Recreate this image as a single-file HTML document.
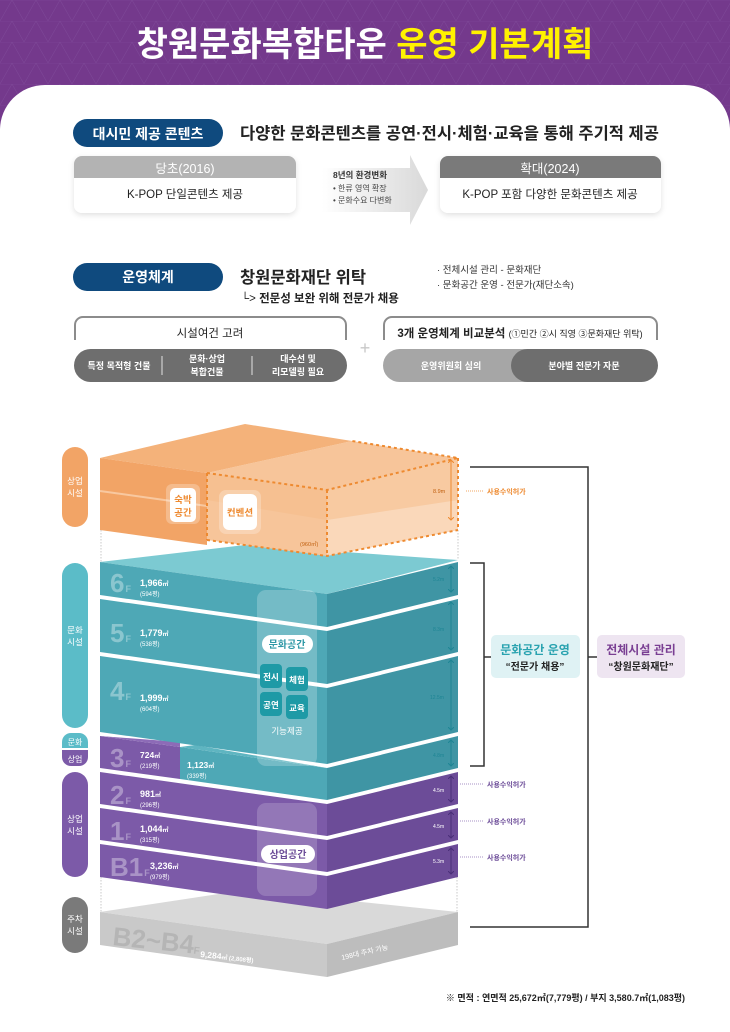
<!DOCTYPE html>
<html><head><meta charset="utf-8">
<style>
html,body{margin:0;padding:0;background:#fff;}
svg{display:block;}
text{font-family:"Liberation Sans","Noto Sans CJK KR",sans-serif;}
</style></head><body>
<svg width="730" height="1032" viewBox="0 0 730 1032" xmlns="http://www.w3.org/2000/svg">
<defs>
<pattern id="tri" width="24" height="21" patternUnits="userSpaceOnUse">
<path d="M0 21 L12 0 L24 21 M0 0 H24" stroke="#7f4a9a" stroke-width="0.5" fill="none"/>
</pattern>
<linearGradient id="arr" x1="0" x2="1"><stop offset="0" stop-color="#fff"/><stop offset="1" stop-color="#d9d9d9"/></linearGradient>
<filter id="sh" x="-10%" y="-20%" width="120%" height="150%"><feDropShadow dx="0" dy="2" stdDeviation="3" flood-color="#000" flood-opacity="0.12"/></filter>
<marker id="at" markerWidth="6" markerHeight="6" refX="3" refY="3" orient="auto-start-reverse" markerUnits="userSpaceOnUse"><path d="M0 0 L3 3 L0 6" fill="none" stroke="context-stroke" stroke-width="1"/></marker>
</defs>
<rect width="730" height="130" fill="#74398c"/>
<rect width="730" height="130" fill="url(#tri)"/>
<rect x="0" y="85" width="730" height="960" rx="45" fill="#fff"/>
<text x="365" y="56" text-anchor="middle" font-size="34" font-weight="bold" fill="#fff">창원문화복합타운 <tspan fill="#fff200">운영 기본계획</tspan></text>

<!-- section 1 -->
<rect x="73" y="119" width="150" height="28" rx="14" fill="#0f4a7e"/>
<text x="148" y="139" text-anchor="middle" font-size="14" font-weight="bold" fill="#fff">대시민 제공 콘텐츠</text>
<text x="240" y="139" font-size="16.5" font-weight="bold" fill="#222">다양한 문화콘텐츠를 공연·전시·체험·교육을 통해 주기적 제공</text>
<g filter="url(#sh)"><rect x="74" y="156" width="222" height="57" rx="8" fill="#fff"/></g>
<path d="M74 178 V164 a8 8 0 0 1 8 -8 H288 a8 8 0 0 1 8 8 V178 Z" fill="#b3b3b3"/>
<text x="185" y="173" text-anchor="middle" font-size="12.5" fill="#fff">당초(2016)</text>
<text x="185" y="198" text-anchor="middle" font-size="11.5" fill="#222">K-POP 단일콘텐츠 제공</text>
<path d="M322 168 H410 V155 L428 190 L410 225 V212 H322 Z" fill="url(#arr)"/>
<text x="333" y="178" font-size="8.5" font-weight="bold" fill="#333">8년의 환경변화</text>
<text x="333" y="191" font-size="8" fill="#444">• 한류 영역 확장</text>
<text x="333" y="203" font-size="8" fill="#444">• 문화수요 다변화</text>
<g filter="url(#sh)"><rect x="440" y="156" width="221" height="57" rx="8" fill="#fff"/></g>
<path d="M440 178 V164 a8 8 0 0 1 8 -8 H653 a8 8 0 0 1 8 8 V178 Z" fill="#7a7a7a"/>
<text x="550" y="173" text-anchor="middle" font-size="12.5" fill="#fff">확대(2024)</text>
<text x="550" y="198" text-anchor="middle" font-size="11.5" fill="#222">K-POP 포함 다양한 문화콘텐츠 제공</text>

<!-- section 2 -->
<rect x="73" y="263" width="150" height="28" rx="14" fill="#0f4a7e"/>
<text x="148" y="282" text-anchor="middle" font-size="14" font-weight="bold" fill="#fff">운영체계</text>
<text x="240" y="283" font-size="16.5" font-weight="bold" fill="#222">창원문화재단 위탁</text>
<text x="241" y="302" font-size="11.5" fill="#222">└&gt; <tspan font-weight="bold">전문성 보완 위해 전문가 채용</tspan></text>
<text x="437" y="273" font-size="9.5" fill="#333">· 전체시설 관리 - 문화재단</text>
<text x="437" y="288" font-size="9.5" fill="#333">· 문화공간 운영 - 전문가(재단소속)</text>

<path d="M75 340 V325 a8 8 0 0 1 8 -8 H338 a8 8 0 0 1 8 8 V340" fill="none" stroke="#8c8c8c" stroke-width="2"/>
<text x="210" y="337" text-anchor="middle" font-size="11.5" fill="#222">시설여건 고려</text>
<rect x="74" y="349" width="273" height="33" rx="16.5" fill="#6e6e6e"/>
<line x1="162" y1="356" x2="162" y2="375" stroke="#fff" stroke-width="0.8"/>
<line x1="252" y1="356" x2="252" y2="375" stroke="#fff" stroke-width="0.8"/>
<text x="119" y="369" text-anchor="middle" font-size="9" font-weight="bold" fill="#fff">특정 목적형 건물</text>
<text x="207" y="362" text-anchor="middle" font-size="9" font-weight="bold" fill="#fff">문화·상업</text>
<text x="207" y="375" text-anchor="middle" font-size="9" font-weight="bold" fill="#fff">복합건물</text>
<text x="298" y="362" text-anchor="middle" font-size="9" font-weight="bold" fill="#fff">대수선 및</text>
<text x="298" y="375" text-anchor="middle" font-size="9" font-weight="bold" fill="#fff">리모델링 필요</text>
<text x="365" y="354" text-anchor="middle" font-size="18" fill="#c8c8c8">+</text>
<path d="M384 340 V325 a8 8 0 0 1 8 -8 H649 a8 8 0 0 1 8 8 V340" fill="none" stroke="#8c8c8c" stroke-width="2"/>
<text x="520" y="337" text-anchor="middle" font-size="11.5" fill="#222"><tspan font-weight="bold">3개 운영체계 비교분석</tspan> <tspan font-size="9">(①민간 ②시 직영 ③문화재단 위탁)</tspan></text>
<rect x="383" y="349" width="170" height="33" rx="16.5" fill="#a6a6a6"/>
<rect x="511" y="349" width="147" height="33" rx="16.5" fill="#6e6e6e"/>
<text x="451" y="369" text-anchor="middle" font-size="9" font-weight="bold" fill="#fff">운영위원회 심의</text>
<text x="584" y="369" text-anchor="middle" font-size="9" font-weight="bold" fill="#fff">분야별 전문가 자문</text>

<!-- left pills -->
<rect x="62" y="447" width="26" height="80" rx="13" fill="#f2a466"/>
<text x="75" y="484" text-anchor="middle" font-size="8.5" fill="#fff">상업</text>
<text x="75" y="496" text-anchor="middle" font-size="8.5" fill="#fff">시설</text>
<rect x="62" y="563" width="26" height="165" rx="13" fill="#5bbcc8"/>
<text x="75" y="633" text-anchor="middle" font-size="8.5" fill="#fff">문화</text>
<text x="75" y="645" text-anchor="middle" font-size="8.5" fill="#fff">시설</text>
<path d="M62 748 V742 a9 9 0 0 1 9 -9 H79 a9 9 0 0 1 9 9 V748 Z" fill="#5bbcc8"/>
<path d="M62 750 H88 V757 a9 9 0 0 1 -9 9 H71 a9 9 0 0 1 -9 -9 Z" fill="#7c5aa8"/>
<text x="75" y="745" text-anchor="middle" font-size="8" fill="#fff">문화</text>
<text x="75" y="762" text-anchor="middle" font-size="8" fill="#fff">상업</text>
<rect x="62" y="772" width="26" height="105" rx="13" fill="#7c5aa8"/>
<text x="75" y="822" text-anchor="middle" font-size="8.5" fill="#fff">상업</text>
<text x="75" y="834" text-anchor="middle" font-size="8.5" fill="#fff">시설</text>
<rect x="62" y="897" width="26" height="56" rx="13" fill="#7a7a7a"/>
<text x="75" y="922" text-anchor="middle" font-size="8.5" fill="#fff">주차</text>
<text x="75" y="934" text-anchor="middle" font-size="8.5" fill="#fff">시설</text>

<!-- dotted guides -->
<g stroke="#bbb" stroke-width="0.8" stroke-dasharray="1.5 1.5">
<line x1="101" y1="530" x2="101" y2="562"/><line x1="458" y1="530" x2="458" y2="560"/><line x1="327" y1="558" x2="327" y2="595"/>
<line x1="101" y1="877" x2="101" y2="912"/><line x1="457" y1="877" x2="457" y2="912"/><line x1="327" y1="908" x2="327" y2="945"/>
</g>

<!-- gray parking -->
<polygon points="100,912 245,890 458,912 327,944" fill="#d9d9d9"/>
<polygon points="100,912 327,944 327,977 100,945" fill="#c9c9c9"/>
<polygon points="327,944 458,912 458,945 327,977" fill="#bdbdbd"/>
<text x="112" y="945" font-size="26" font-weight="bold" fill="#b5b5b5" transform="rotate(6 112 945)">B2~B4<tspan font-size="10">F</tspan></text>
<text x="200" y="957" font-size="8.5" font-weight="bold" fill="#fff" transform="rotate(6 200 957)">9,284<tspan font-size="6">㎡ (2,808평)</tspan></text>
<text x="342" y="960" font-size="7" fill="#fff" transform="rotate(-13 342 960)">198대 주차 가능</text>

<!-- purple floors -->
<g>
<polygon points="100,844 327,876 327,909 100,877" fill="#7c5aa8"/>
<polygon points="327,876 458,844 458,877 327,909" fill="#6c4c98"/>
<polygon points="100,808 327,840 327,872 100,840" fill="#7c5aa8"/>
<polygon points="327,840 458,808 458,840 327,872" fill="#6c4c98"/>
<polygon points="100,772 327,804 327,836 100,804" fill="#7c5aa8"/>
<polygon points="327,804 458,772 458,804 327,836" fill="#6c4c98"/>
<polygon points="100,736 180,747 180,779 100,768" fill="#7c5aa8"/>
<polygon points="100,736 180,742 180,747" fill="#8d6bb7"/>
</g>
<!-- teal floors -->
<polygon points="100,562 245,545 458,560 327,594" fill="#7ccad2"/>
<polygon points="180,747 327,768 327,800 180,779" fill="#4ea8b6"/>
<polygon points="180,747 195,745 327,768" fill="#5fb5c1"/>
<polygon points="327,768 458,736 458,768 327,800" fill="#3f95a4"/>
<polygon points="100,656 327,688 327,764 100,732" fill="#4ea8b6"/>
<polygon points="327,688 458,656 458,732 327,764" fill="#3f95a4"/>
<polygon points="100,599 327,631 327,684 100,652" fill="#4ea8b6"/>
<polygon points="327,631 458,599 458,652 327,684" fill="#3f95a4"/>
<polygon points="100,562 327,594 327,627 100,595" fill="#4ea8b6"/>
<polygon points="327,594 458,562 458,595 327,627" fill="#3f95a4"/>
<!-- overlays -->
<rect x="257" y="590" width="60" height="176" rx="9" fill="#fff" fill-opacity="0.22"/>
<rect x="257" y="803" width="60" height="93" rx="9" fill="#fff" fill-opacity="0.18"/>
<rect x="262" y="635" width="51" height="18" rx="9" fill="#fff"/>
<text x="287" y="648" text-anchor="middle" font-size="10" font-weight="bold" fill="#2f98a6">문화공간</text>
<g fill="#1e9aa6">
<rect x="260" y="664" width="22" height="24" rx="4"/><rect x="286" y="667" width="22" height="24" rx="4"/>
<rect x="260" y="692" width="22" height="24" rx="4"/><rect x="286" y="695" width="22" height="24" rx="4"/>
</g>
<g font-size="8.5" font-weight="bold" fill="#fff" text-anchor="middle">
<text x="271" y="680">전시</text><text x="297" y="683">체험</text><text x="271" y="708">공연</text><text x="297" y="711">교육</text>
</g>
<text x="287" y="734" text-anchor="middle" font-size="8.5" fill="#fff">기능제공</text>
<rect x="261" y="845" width="54" height="18" rx="9" fill="#fff"/>
<text x="288" y="858" text-anchor="middle" font-size="10" font-weight="bold" fill="#6c4c98">상업공간</text>

<!-- floor labels -->
<g fill="#fff" fill-opacity="0.35" font-weight="bold">
<text x="110" y="592" font-size="26">6<tspan font-size="9" dx="1">F</tspan></text>
<text x="110" y="642" font-size="26">5<tspan font-size="9" dx="1">F</tspan></text>
<text x="110" y="700" font-size="26">4<tspan font-size="9" dx="1">F</tspan></text>
<text x="110" y="767" font-size="26">3<tspan font-size="9" dx="1">F</tspan></text>
<text x="110" y="804" font-size="26">2<tspan font-size="9" dx="1">F</tspan></text>
<text x="110" y="840" font-size="26">1<tspan font-size="9" dx="1">F</tspan></text>
<text x="110" y="876" font-size="26">B1<tspan font-size="9" dx="1">F</tspan></text>
<text x="110" y="491" font-size="26">8<tspan font-size="9" dx="1">F</tspan></text>
<text x="110" y="527" font-size="26">7<tspan font-size="9" dx="1">F</tspan></text>
</g>
<g fill="#fff">
<text x="140" y="586" font-size="9" font-weight="bold">1,966<tspan font-size="6">㎡</tspan></text><text x="140" y="596" font-size="6">(594평)</text>
<text x="140" y="636" font-size="9" font-weight="bold">1,779<tspan font-size="6">㎡</tspan></text><text x="140" y="646" font-size="6">(538평)</text>
<text x="140" y="701" font-size="9" font-weight="bold">1,999<tspan font-size="6">㎡</tspan></text><text x="140" y="711" font-size="6">(604평)</text>
<text x="140" y="758" font-size="8.5" font-weight="bold">724<tspan font-size="6">㎡</tspan></text><text x="140" y="768" font-size="6">(219평)</text>
<text x="187" y="768" font-size="8.5" font-weight="bold">1,123<tspan font-size="6">㎡</tspan></text><text x="187" y="778" font-size="6">(339평)</text>
<text x="140" y="797" font-size="9" font-weight="bold">981<tspan font-size="6">㎡</tspan></text><text x="140" y="807" font-size="6">(296평)</text>
<text x="140" y="832" font-size="9" font-weight="bold">1,044<tspan font-size="6">㎡</tspan></text><text x="140" y="842" font-size="6">(315평)</text>
<text x="150" y="869" font-size="9" font-weight="bold">3,236<tspan font-size="6">㎡</tspan></text><text x="150" y="879" font-size="6">(979평)</text>
<text x="138" y="482" font-size="8" font-weight="bold">1,561<tspan font-size="6">㎡</tspan></text><text x="138" y="492" font-size="6">(472평)</text>
<text x="138" y="516" font-size="8" font-weight="bold">1,971<tspan font-size="6">㎡</tspan></text><text x="138" y="526" font-size="6">(597평)</text>
</g>

<!-- orange block -->
<polygon points="352,441 458,458 458,530 327,556 207,540 207,473" fill="#f7c59a"/>
<polygon points="327,490 458,458 458,530 327,556" fill="#fbe0c8" fill-opacity="0.7"/>
<polygon points="207,473 327,490 458,458 458,500 327,520 207,500" fill="#f5bb88" fill-opacity="0.5"/>
<polygon points="100,458 245,424 352,441 207,473" fill="#f4b27a"/>
<polygon points="100,458 207,473 207,545 100,530" fill="#f2a466"/>
<line x1="100" y1="491" x2="207" y2="506" stroke="#f8c8a0" stroke-width="2"/>
<g fill="none" stroke="#ee8a30" stroke-width="2" stroke-dasharray="3 3">
<polyline points="207,473 327,490 458,458 352,441"/>
<line x1="327" y1="490" x2="327" y2="556"/>
<line x1="458" y1="458" x2="458" y2="530"/>
<polyline points="207,540 327,556 458,530"/>
<line x1="207" y1="473" x2="207" y2="540"/>
</g>
<rect x="166" y="484" width="34" height="40" rx="6" fill="#fff" fill-opacity="0.25"/>
<rect x="170" y="488" width="26" height="34" rx="5" fill="#fff"/>
<text x="183" y="503" text-anchor="middle" font-size="9.5" font-weight="bold" fill="#ee8a30">숙박</text>
<text x="183" y="516" text-anchor="middle" font-size="9.5" font-weight="bold" fill="#ee8a30">공간</text>
<rect x="219" y="490" width="42" height="44" rx="7" fill="#fff" fill-opacity="0.25"/>
<rect x="223" y="494" width="34" height="36" rx="6" fill="#fff"/>
<text x="240" y="516" text-anchor="middle" font-size="9.5" font-weight="bold" fill="#ee8a30">컨벤션</text>
<text x="300" y="546" font-size="5.5" fill="#c06010">(960㎡)</text>
<line x1="451" y1="460" x2="451" y2="520" stroke="#ee8a30" stroke-width="1" marker-start="url(#at)" marker-end="url(#at)"/>
<text x="433" y="493" font-size="5.5" fill="#c06010">8.9m</text>
<line x1="466" y1="491" x2="484" y2="491" stroke="#ee8a30" stroke-width="0.8" stroke-dasharray="1 1"/>
<text x="487" y="494" font-size="7" font-weight="bold" fill="#ee8a30">사용수익허가</text>

<!-- height arrows -->
<g stroke="#1e8594" stroke-width="1" marker-start="url(#at)" marker-end="url(#at)">
<line x1="451" y1="566" x2="451" y2="592"/><line x1="451" y1="602" x2="451" y2="650"/><line x1="451" y1="660" x2="451" y2="730"/><line x1="451" y1="740" x2="451" y2="766"/>
</g>
<g font-size="5" fill="#1e8594"><text x="433" y="581">5.2m</text><text x="433" y="631">8.3m</text><text x="430" y="699">12.5m</text><text x="433" y="757">4.8m</text></g>
<g stroke="#4a2f78" stroke-width="1" marker-start="url(#at)" marker-end="url(#at)">
<line x1="451" y1="776" x2="451" y2="802"/><line x1="451" y1="812" x2="451" y2="838"/><line x1="451" y1="848" x2="451" y2="874"/>
</g>
<g font-size="5" fill="#fff"><text x="433" y="792">4.5m</text><text x="433" y="828">4.5m</text><text x="433" y="863">5.3m</text></g>
<g stroke="#8a6cb3" stroke-width="0.8" stroke-dasharray="1 1">
<line x1="460" y1="784" x2="484" y2="784"/><line x1="460" y1="821" x2="484" y2="821"/><line x1="460" y1="857" x2="484" y2="857"/>
</g>
<g font-size="7" font-weight="bold" fill="#6c4c98">
<text x="487" y="787">사용수익허가</text><text x="487" y="824">사용수익허가</text><text x="487" y="860">사용수익허가</text>
</g>

<!-- brackets -->
<polyline points="470,467 588,467 588,927 470,927" fill="none" stroke="#333" stroke-width="1.5"/>
<polyline points="470,563 484,563 484,766 470,766" fill="none" stroke="#333" stroke-width="1.5"/>
<line x1="484" y1="657" x2="491" y2="657" stroke="#333" stroke-width="1.5"/>
<line x1="588" y1="657" x2="597" y2="657" stroke="#333" stroke-width="1.5"/>
<rect x="491" y="635" width="89" height="43" rx="5" fill="#dff2f4"/>
<text x="535" y="654" text-anchor="middle" font-size="12" font-weight="bold" fill="#2aa3b0">문화공간 운영</text>
<text x="535" y="670" text-anchor="middle" font-size="10" font-weight="bold" fill="#222">“전문가 채용”</text>
<rect x="597" y="635" width="88" height="43" rx="5" fill="#eee5f1"/>
<text x="641" y="654" text-anchor="middle" font-size="12" font-weight="bold" fill="#7a3f93">전체시설 관리</text>
<text x="641" y="670" text-anchor="middle" font-size="10" font-weight="bold" fill="#222">“창원문화재단”</text>

<text x="685" y="1001" text-anchor="end" font-size="9" font-weight="bold" fill="#222">※ 면적 : 연면적 25,672㎡(7,779평) / 부지 3,580.7㎡(1,083평)</text>
</svg>
</body></html>
